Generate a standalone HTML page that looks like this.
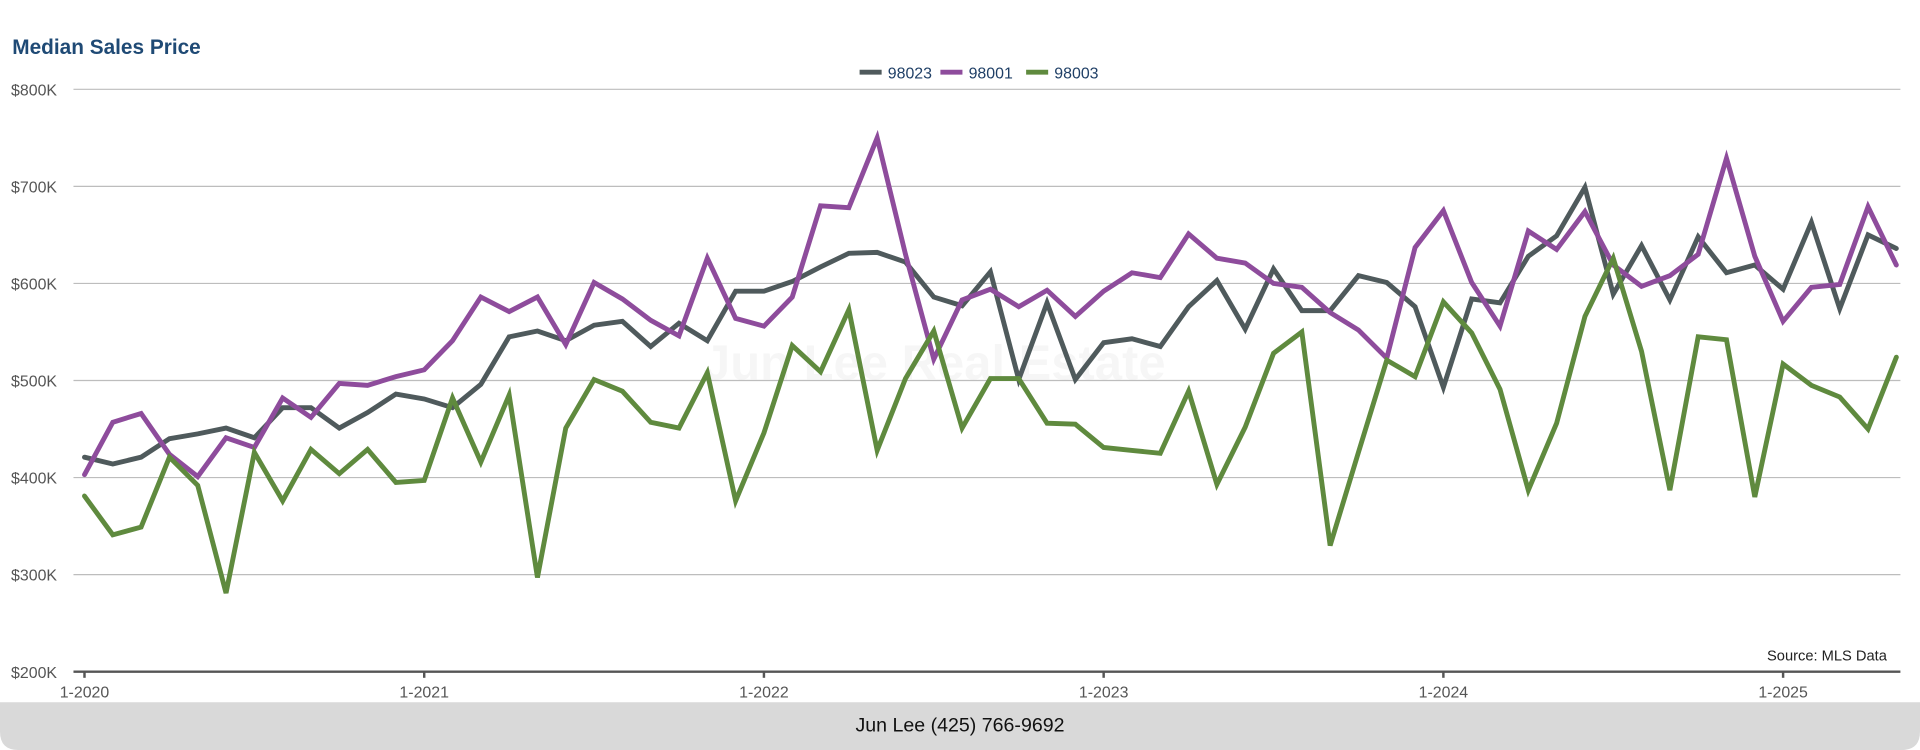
<!DOCTYPE html>
<html><head><meta charset="utf-8"><style>
html,body{margin:0;padding:0;background:#fff;width:1920px;height:750px;overflow:hidden}
svg{display:block;font-family:"Liberation Sans",Arial,sans-serif}
</style></head><body>
<svg id="chart" width="1920" height="750" viewBox="0 0 1568 613" preserveAspectRatio="none">
<rect x="0" y="0" width="1568" height="613" fill="#fff"/>
<path d="M0 574 H1568 V598 Q1568 613 1553 613 H15 Q0 613 0 598 Z" fill="#d9d9d9"/>
<text x="784" y="598" text-anchor="middle" font-size="16" fill="#111">Jun Lee (425) 766-9692</text>
<text x="10" y="44" font-size="17" font-weight="bold" fill="#1f4a75">Median Sales Price</text>
<text x="763" y="310" text-anchor="middle" font-size="40" font-weight="bold" fill="#000" fill-opacity="0.035">Jun Lee Real Estate</text>
<g id="grid"></g><g id="axes"></g><g id="lines"></g><g id="legend"></g>
<text x="1541" y="540" text-anchor="end" font-size="12" fill="#222">Source: MLS Data</text>
</svg>
<script>
const yTicks=[200,300,400,500,600,700,800];
const yTickLabels=["$200K","$300K","$400K","$500K","$600K","$700K","$800K"];
const xTickIdx=[0,12,24,36,48,60];
const xTickLabels=["1-2020","1-2021","1-2022","1-2023","1-2024","1-2025"];
const seriesNames=["98023","98001","98003"];
const s98023=[421,414,421,440,445,451,441,472,472,451,467,486,481,472,496,545,551,541,557,561,535,559,541,592,592,602,617,631,632,622,586,577,612,501,580,501,539,543,535,576,603,553,615,572,572,608,601,576,493,584,580,628,649,699,589,639,583,648,611,619,594,663,574,650,636];
const s98001=[403,457,466,424,401,441,431,482,462,497,495,504,511,541,586,571,586,537,601,584,562,546,626,564,556,586,680,678,750,630,522,583,594,576,593,566,592,611,606,651,626,621,600,596,570,552,523,637,675,601,556,654,635,674,619,597,608,630,729,628,561,596,599,679,619];
const s98003=[381,341,349,421,392,281,426,376,429,404,429,395,397,482,416,485,297,451,501,489,457,451,508,376,446,536,509,573,428,502,551,451,502,502,456,455,431,428,425,489,393,452,528,550,330,426,521,504,581,549,491,387,456,566,626,530,387,545,542,380,517,495,483,450,524];
const colors=["#4f5a5c","#8e4c9c","#5f8a3e"];
const NS="http://www.w3.org/2000/svg";
const x0=69,dx=23.12,yBase=549,yTop=73;
const xs=i=>x0+dx*i;
const ys=v=>yBase-(v-200)/600*(yBase-yTop);
function mk(t,a,p){const e=document.createElementNS(NS,t);for(const k in a)e.setAttribute(k,a[k]);p.appendChild(e);return e;}
const grid=document.getElementById('grid'),axes=document.getElementById('axes'),lines=document.getElementById('lines'),legend=document.getElementById('legend');
yTicks.forEach((v,i)=>{
  if(i>0){const l=mk('line',{x1:60,x2:1552,y1:ys(v),y2:ys(v),stroke:'#bdbdbd','stroke-width':1},grid);
  
  }
  const t=mk('text',{x:9,y:ys(v)+5,'font-size':13,fill:'#555'},axes);t.textContent=yTickLabels[i];
  
  
});
const ax=mk('line',{x1:60,x2:1552,y1:yBase,y2:yBase,stroke:'#555','stroke-width':2},axes);


xTickIdx.forEach((idx,i)=>{
  const tk=mk('line',{x1:xs(idx),x2:xs(idx),y1:yBase,y2:yBase+5,stroke:'#555','stroke-width':2},axes);
  
  
  const t=mk('text',{x:xs(idx),y:570,'text-anchor':'middle','font-size':13,fill:'#555'},axes);t.textContent=xTickLabels[i];
  
  
});
[s98023,s98001,s98003].forEach((s,k)=>{
  const p=mk('polyline',{points:s.map((v,i)=>xs(i)+','+ys(v)).join(' '),fill:'none',stroke:colors[k],'stroke-width':4,'stroke-linejoin':'miter','stroke-linecap':'round'},lines);
  
  
});
const lx=[702,768,838];
seriesNames.forEach((n,k)=>{
  const g=mk('g',{},legend);
  
  
  mk('line',{x1:lx[k],x2:lx[k]+18,y1:59,y2:59,stroke:colors[k],'stroke-width':4},g);
  const t=mk('text',{x:lx[k]+23,y:64,'font-size':13,fill:'#1f3f66'},g);t.textContent=n;
});
</script>
</body></html>
